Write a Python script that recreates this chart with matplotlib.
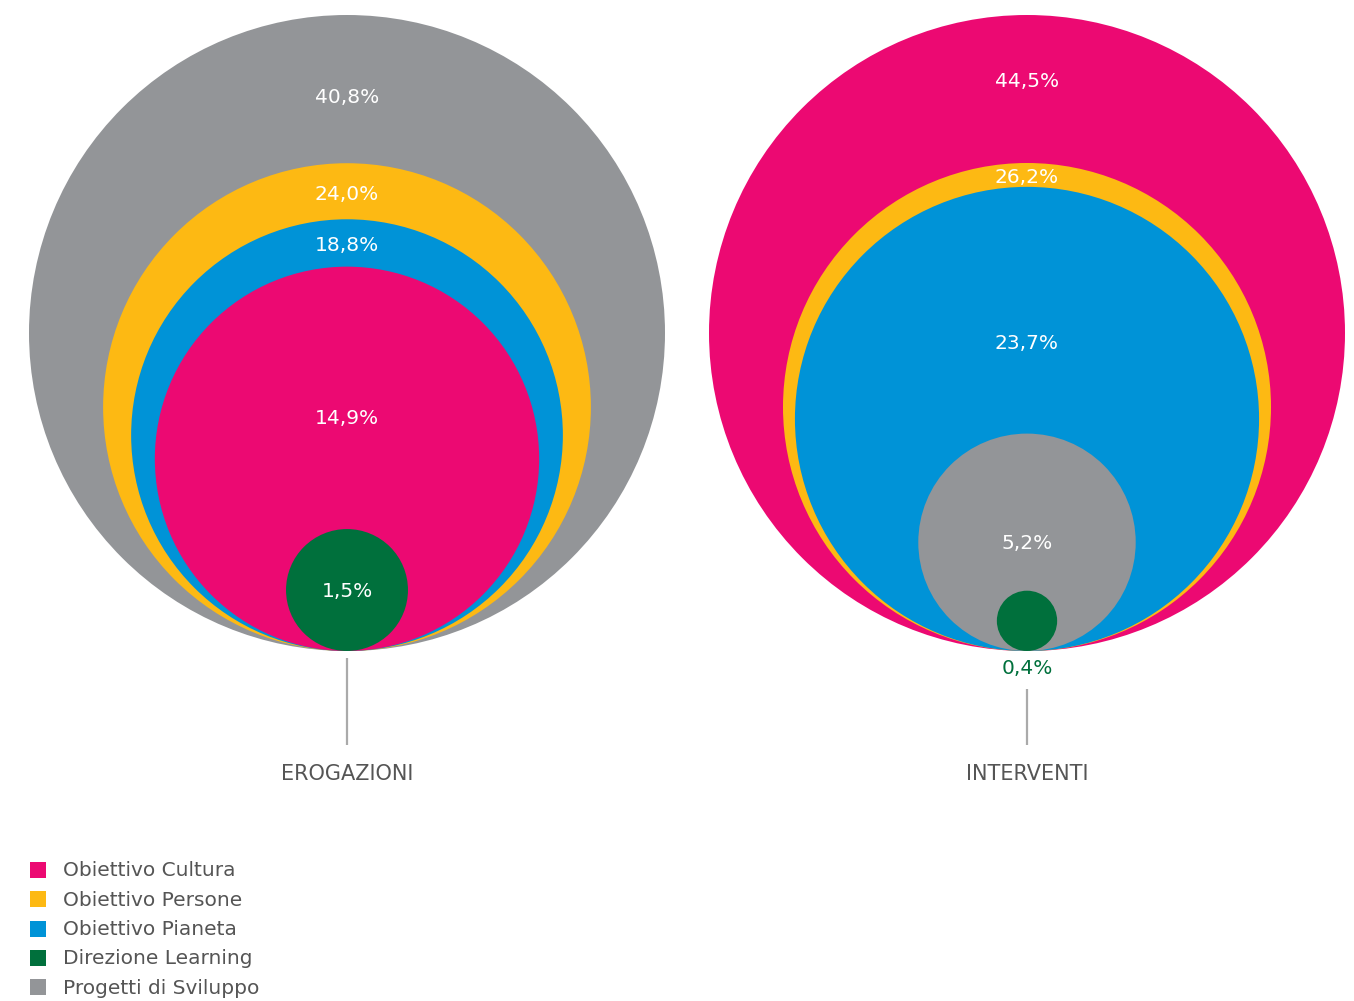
import numpy as np
import matplotlib
matplotlib.use("Agg")
import matplotlib.pyplot as plt
from matplotlib.patches import Circle, Rectangle

# ---- data ----
categories = ["Obiettivo Cultura", "Obiettivo Persone", "Obiettivo Pianeta",
              "Direzione Learning", "Progetti di Sviluppo"]
colors = {"Obiettivo Cultura": "#EC0972", "Obiettivo Persone": "#FDB913",
          "Obiettivo Pianeta": "#0093D7", "Direzione Learning": "#00703C",
          "Progetti di Sviluppo": "#939598"}
erogazioni = {"Progetti di Sviluppo": 40.8, "Obiettivo Persone": 24.0,
              "Obiettivo Pianeta": 18.8, "Obiettivo Cultura": 14.9,
              "Direzione Learning": 1.5}
interventi = {"Obiettivo Cultura": 44.5, "Obiettivo Persone": 26.2,
              "Obiettivo Pianeta": 23.7, "Progetti di Sviluppo": 5.2,
              "Direzione Learning": 0.4}
titles = ["EROGAZIONI", "INTERVENTI"]

FONT = ["DejaVu Sans"]
W, H = 1354, 1001
fig = plt.figure(figsize=(W / 100, H / 100), dpi=100)
ax = fig.add_axes([0, 0, 1, 1])
ax.set_xlim(0, W)
ax.set_ylim(H, 0)
ax.axis("off")

RMAX = 318
BASE = 651
centers_x = [347, 1027]
fs_lab = 14.5
fs_title = 15


def fmt(v):
    return f"{v:.1f}".replace(".", ",") + "%"


for cx, data, title in zip(centers_x, [erogazioni, interventi], titles):
    items = sorted(data.items(), key=lambda kv: -kv[1])
    vmax = items[0][1]
    radii = [RMAX * np.sqrt(v / vmax) for _, v in items]
    tops = [BASE - 2 * r for r in radii]
    for (name, v), r in zip(items, radii):
        ax.add_patch(Circle((cx, BASE - r), r, facecolor=colors[name],
                            edgecolor="none"))
    n = len(items)
    for i, ((name, v), r) in enumerate(zip(items, radii)):
        if i == n - 1:
            # smallest circle
            if r > 45:
                y = BASE - r + 1
                c = "white"
            else:
                y = BASE + 18
                c = colors[name]
        elif i == n - 2 and radii[-1] / r < 0.45 and r < 0.5 * RMAX:
            y = BASE - r + 1
            c = "white"
        else:
            nxt = tops[i + 1]
            band = nxt - tops[i]
            if band > 120:
                if i == 0:
                    y = tops[i] + 0.5 * band - (7 if title == "INTERVENTI" else -8)
                else:
                    y = tops[i] + 152
            else:
                y = (tops[i] + nxt) / 2 + 3
            if title == "INTERVENTI" and name == "Obiettivo Pianeta":
                y = tops[i] + 157
            c = "white"
        ax.text(cx, y, fmt(v), ha="center", va="center", color=c,
                fontsize=fs_lab, family=FONT)
    # connector line & title
    y0 = BASE + 7 if radii[-1] > 45 else BASE + 38
    ax.plot([cx, cx], [y0, 745], color="#aaaaaa", lw=1.6, solid_capstyle="butt")
    ax.text(cx, 774, title, ha="center", va="center", color="#555555",
            fontsize=fs_title, family=FONT)

# legend
for i, name in enumerate(categories):
    y = 870 + i * 29.3
    ax.add_patch(Rectangle((30, y - 8), 16, 16, facecolor=colors[name],
                           edgecolor="none"))
    ax.text(63, y + 1, name, ha="left", va="center", color="#555555",
            fontsize=14.5, family=FONT)

fig.savefig("out.png", dpi=100, facecolor="white")
